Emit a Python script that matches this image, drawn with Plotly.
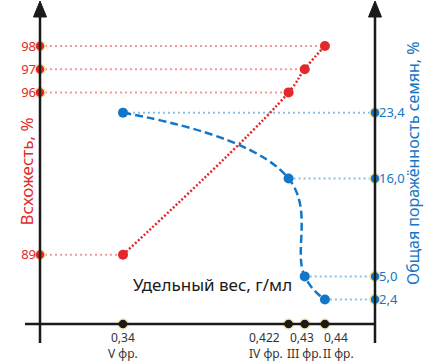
import plotly.graph_objects as go

# ---- data ----
density = [0.34, 0.422, 0.43, 0.44]
density_values = ["0,34", "0,422", "0,43", "0,44"]
density_fractions = ["V фр.", "IV фр.", "III фр.", "II фр."]
germination = [89, 96, 97, 98]
germ_labels = ["89", "96", "97", "98"]
infection = [23.4, 16.0, 5.0, 2.4]
infect_labels = ["23,4", "16,0", "5,0", "2,4"]

# label horizontal offsets (px) for the crowded x labels
value_shift = [0, -24, -3, 11]
fraction_shift = [0, -23, 0, 14]

RED = "#e2282a"
BLUE = "#1476c6"
PINK = "#f29a9a"
LBLUE = "#86c2ec"
RIM = "#f3e6a4"
INK = "#1a1a1a"

W, H = 435, 361
ML, MR, MT, MB = 40, 60, 15, 37
PW, PH = W - ML - MR, H - MT - MB

XR = [0.2989, 0.4648]
YR = [86.017, 99.336]
Y2R = [-0.35, 34.37]

fig = go.Figure()

for xv, yv in zip(density, germination):
    fig.add_trace(go.Scatter(x=[XR[0], xv], y=[yv, yv], mode="lines",
                             line=dict(color=PINK, width=2, dash="2px,3px"),
                             hoverinfo="skip", showlegend=False, cliponaxis=False))
for xv, yv in zip(density, infection):
    fig.add_trace(go.Scatter(x=[xv, XR[1]], y=[yv, yv], mode="lines", yaxis="y2",
                             line=dict(color=LBLUE, width=2, dash="2px,3px"),
                             hoverinfo="skip", showlegend=False, cliponaxis=False))

fig.add_trace(go.Scatter(x=density, y=germination, mode="lines+markers",
                         line=dict(color=RED, width=2.5, dash="2px,2px", shape="spline", smoothing=1.3),
                         marker=dict(color=RED, size=10),
                         showlegend=False, cliponaxis=False))
fig.add_trace(go.Scatter(x=density, y=infection, mode="lines+markers", yaxis="y2",
                         line=dict(color=BLUE, width=2.5, dash="8px,4px", shape="spline", smoothing=1.2),
                         marker=dict(color=BLUE, size=10),
                         showlegend=False, cliponaxis=False))

fig.add_trace(go.Scatter(x=[XR[0]] * len(germination), y=germination, mode="markers",
                         marker=dict(color=RED, size=10, line=dict(color=RIM, width=1.5)),
                         showlegend=False, cliponaxis=False, hoverinfo="skip"))
fig.add_trace(go.Scatter(x=[XR[1]] * len(infection), y=infection, mode="markers", yaxis="y2",
                         marker=dict(color=BLUE, size=10, line=dict(color=RIM, width=1.5)),
                         showlegend=False, cliponaxis=False, hoverinfo="skip"))
fig.add_trace(go.Scatter(x=density, y=[YR[0]] * len(density), mode="markers",
                         marker=dict(color=INK, size=10, line=dict(color=RIM, width=1.5)),
                         showlegend=False, cliponaxis=False, hoverinfo="skip"))

px_x = lambda p: (p - ML) / PW
px_y = lambda p: (H - MB - p) / PH

shapes = []
lw = 2.5
shapes.append(dict(type="line", xref="paper", yref="paper", x0=0, x1=0,
                   y0=px_y(343), y1=px_y(12), line=dict(color=INK, width=lw)))
shapes.append(dict(type="line", xref="paper", yref="paper", x0=1, x1=1,
                   y0=px_y(343), y1=px_y(12), line=dict(color=INK, width=lw)))
shapes.append(dict(type="line", xref="paper", yref="paper", x0=px_x(25), x1=1,
                   y0=0, y1=0, line=dict(color=INK, width=lw)))
for xc in (ML, ML + PW):
    path = "M {} {} L {} {} L {} {} Z".format(
        px_x(xc), px_y(1), px_x(xc - 6.5), px_y(17), px_x(xc + 6.5), px_y(17))
    shapes.append(dict(type="path", xref="paper", yref="paper", path=path,
                       fillcolor=INK, line=dict(color=INK, width=1)))

FONT = "Noto Sans"
annotations = [
    dict(text="Всхожесть, %", xref="paper", yref="paper", x=px_x(12), y=px_y(172),
         textangle=-90, showarrow=False, font=dict(family=FONT, size=17, color=RED)),
    dict(text="Общая поражённость семян, %", xref="paper", yref="paper", x=px_x(426), y=px_y(163),
         textangle=-90, showarrow=False, font=dict(family=FONT, size=16, color=BLUE)),
    dict(text="Удельный вес, г/мл", xref="paper", yref="paper", x=px_x(212), y=px_y(298),
         showarrow=False, font=dict(family=FONT, size=17, color=INK)),
]
for xv, v, f, s1, s2 in zip(density, density_values, density_fractions, value_shift, fraction_shift):
    annotations.append(dict(text=v, x=xv, xref="x", yref="paper", y=px_y(338),
                            yanchor="middle", xanchor="center", xshift=s1, showarrow=False,
                            font=dict(family=FONT, size=12, color="#333333")))
    annotations.append(dict(text=f, x=xv, xref="x", yref="paper", y=px_y(353),
                            yanchor="middle", xanchor="center", xshift=s2, showarrow=False,
                            font=dict(family=FONT, size=12, color="#333333")))

fig.update_layout(
    width=W, height=H,
    margin=dict(l=ML, r=MR, t=MT, b=MB, pad=0, autoexpand=False),
    paper_bgcolor="white", plot_bgcolor="white",
    font=dict(family=FONT),
    shapes=shapes, annotations=annotations,
    xaxis=dict(range=XR, showgrid=False, zeroline=False, showline=False,
               showticklabels=False, ticks="", automargin=False),
    yaxis=dict(range=YR, showgrid=False, zeroline=False, showline=False,
               tickvals=germination, ticktext=germ_labels, ticks="", automargin=False,
               tickfont=dict(size=13, color=RED, family=FONT), ticklabelstandoff=3),
    yaxis2=dict(range=Y2R, overlaying="y", side="right", showgrid=False, zeroline=False,
                showline=False, tickvals=infection, ticktext=infect_labels, ticks="",
                automargin=False,
                tickfont=dict(size=13, color=BLUE, family=FONT), ticklabelstandoff=3),
)

fig.write_html("out.html", config={"displayModeBar": False},
               post_script="document.body.style.margin='0';document.body.style.overflow='hidden';")
